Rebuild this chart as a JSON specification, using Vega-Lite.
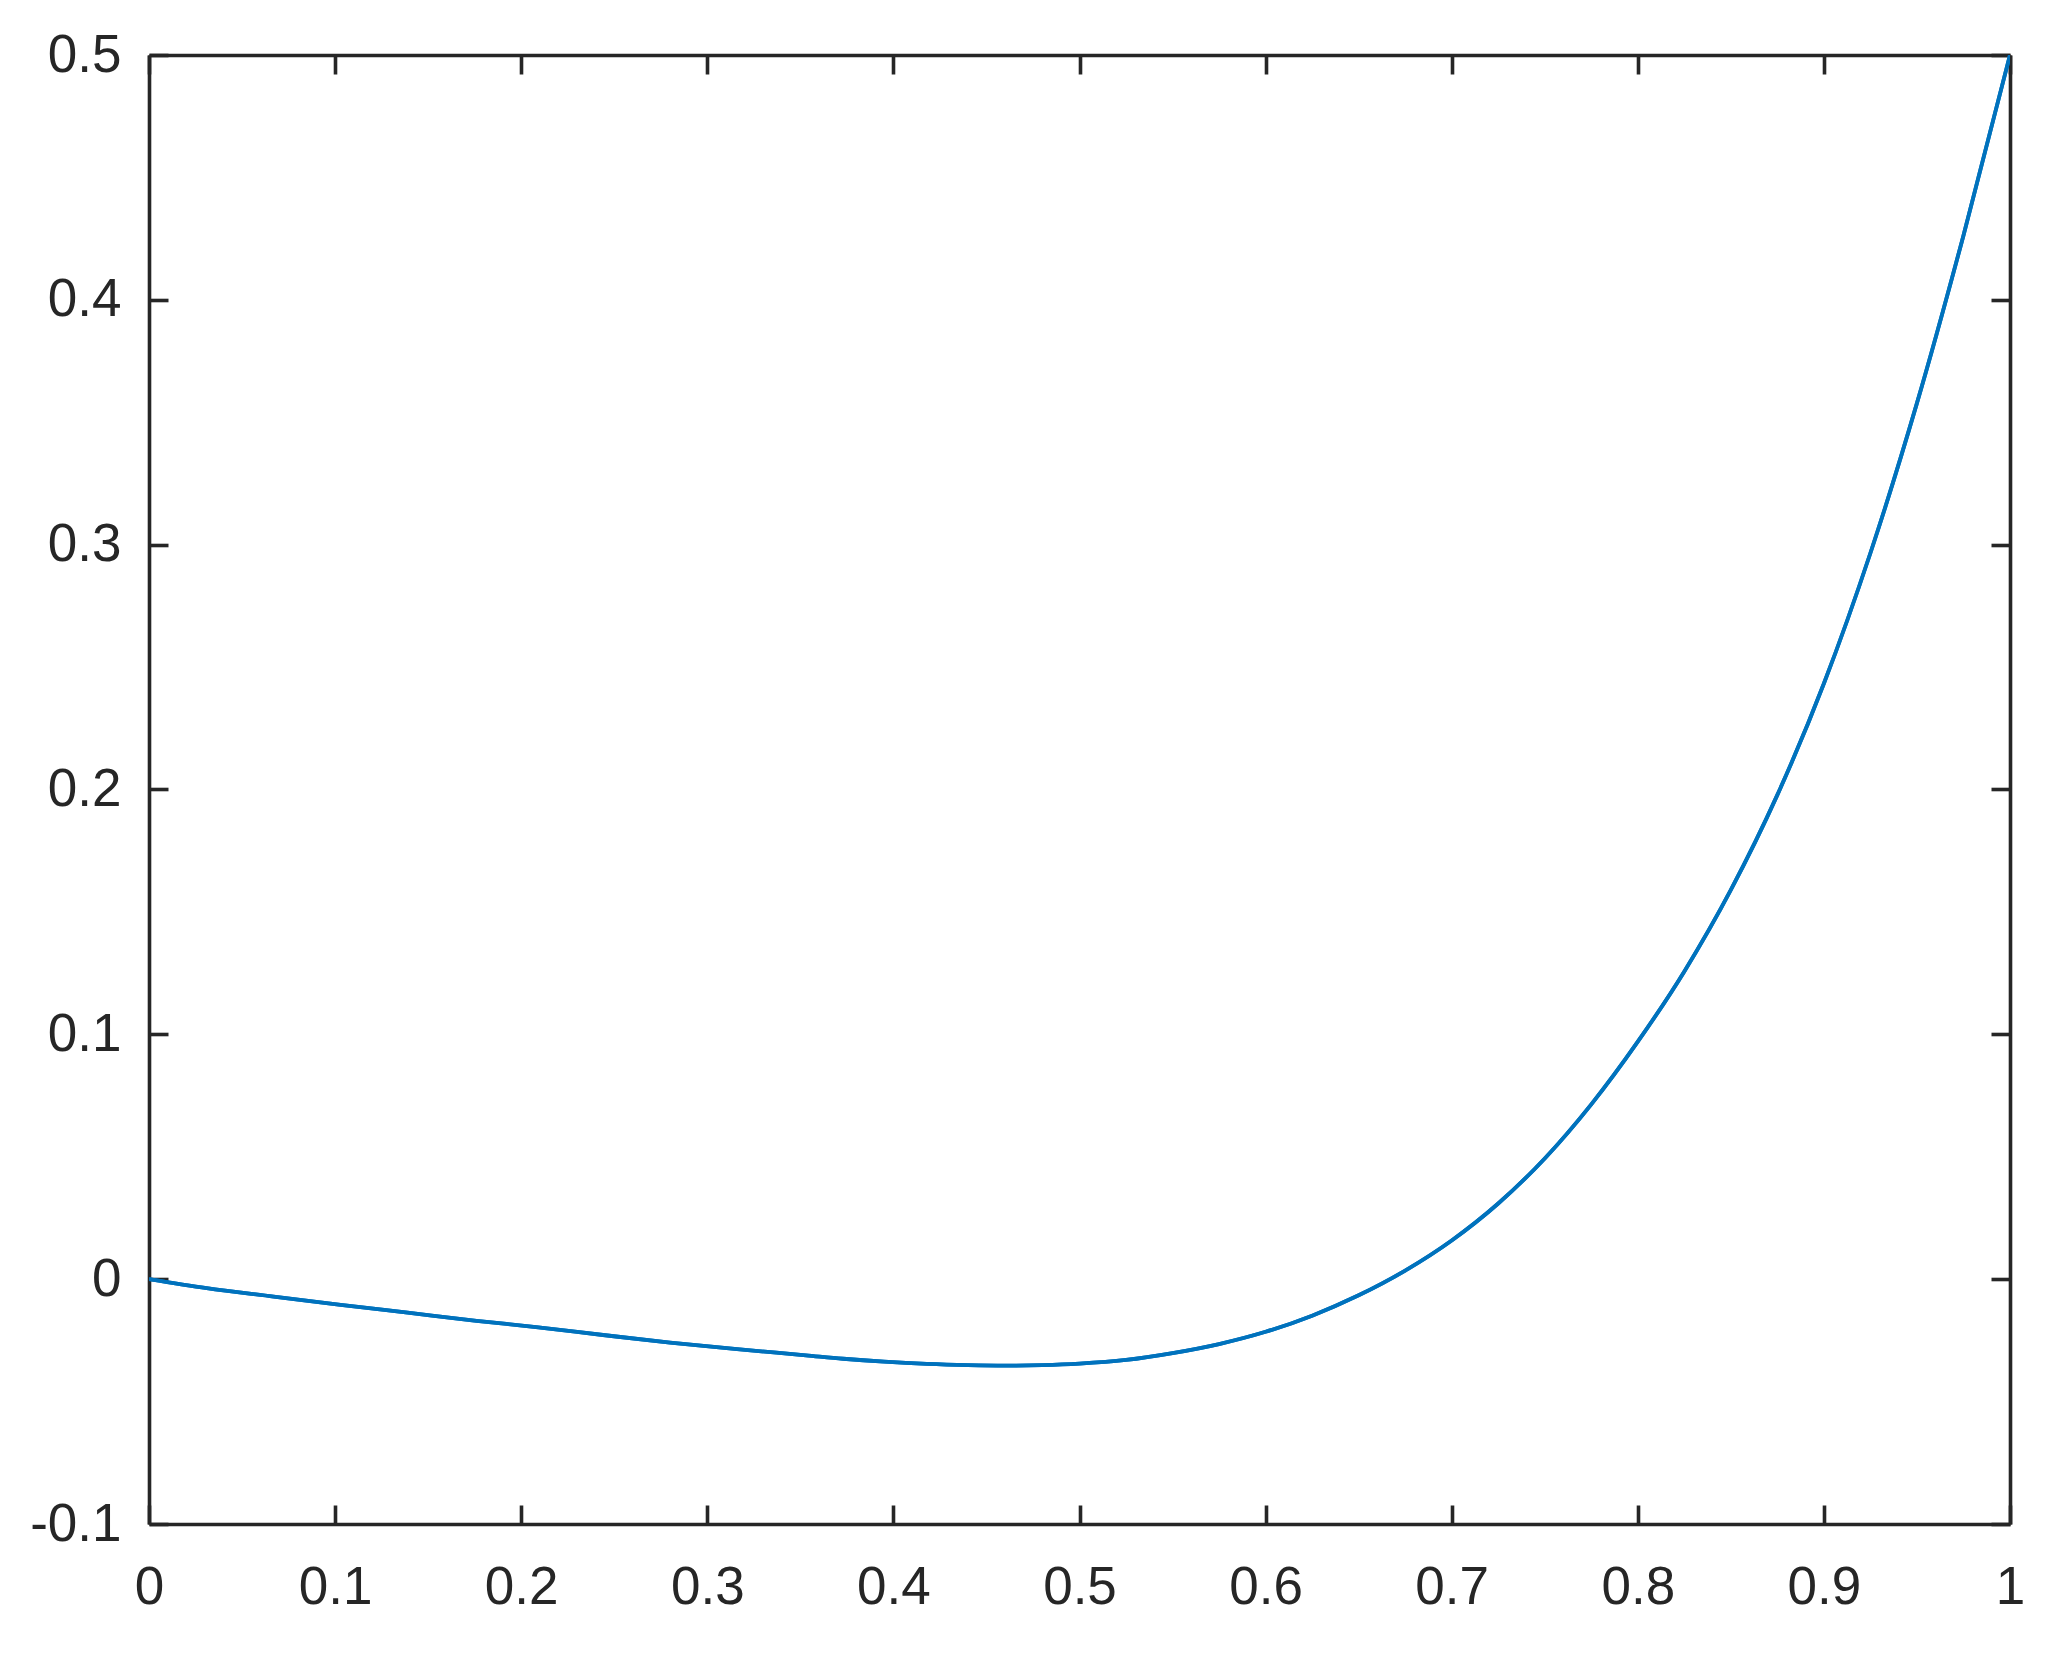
{
  "$schema": "https://vega.github.io/schema/vega-lite/v6.json",
  "width": 1861,
  "height": 1469,
  "autosize": {"type": "none"},
  "padding": {"left": 149, "top": 55, "right": 35, "bottom": 131},
  "background": "white",
  "config": {
    "view": {"stroke": null},
    "axis": {
      "grid": false,
      "domainColor": "#262626",
      "domainWidth": 3.6,
      "tickColor": "#262626",
      "tickWidth": 3.6,
      "tickSize": -19,
      "labelColor": "#262626",
      "labelFont": "Liberation Sans",
      "labelFontSize": 53,
      "labelFlush": false,
      "labelOverlap": false,
      "title": null
    }
  },
  "data": {
    "values": [
      {"x": 0, "y": 0},
      {"x": 0.031, "y": -0.0037},
      {"x": 0.067, "y": -0.0071},
      {"x": 0.103, "y": -0.0105},
      {"x": 0.139, "y": -0.0137},
      {"x": 0.176, "y": -0.017},
      {"x": 0.208, "y": -0.0196},
      {"x": 0.244, "y": -0.0228},
      {"x": 0.28, "y": -0.0259},
      {"x": 0.316, "y": -0.0286},
      {"x": 0.353, "y": -0.0311},
      {"x": 0.373, "y": -0.0325},
      {"x": 0.395, "y": -0.0337},
      {"x": 0.418, "y": -0.0346},
      {"x": 0.44, "y": -0.0351},
      {"x": 0.46, "y": -0.0353},
      {"x": 0.48, "y": -0.0351},
      {"x": 0.5, "y": -0.0345},
      {"x": 0.525, "y": -0.033},
      {"x": 0.55, "y": -0.0302},
      {"x": 0.575, "y": -0.0265},
      {"x": 0.6, "y": -0.0215},
      {"x": 0.625, "y": -0.0149},
      {"x": 0.65, "y": -0.0066},
      {"x": 0.675, "y": 0.0035},
      {"x": 0.7, "y": 0.0158},
      {"x": 0.725, "y": 0.0309},
      {"x": 0.75, "y": 0.0493},
      {"x": 0.775, "y": 0.0714},
      {"x": 0.8, "y": 0.097},
      {"x": 0.825, "y": 0.1257},
      {"x": 0.85, "y": 0.159},
      {"x": 0.875, "y": 0.1978},
      {"x": 0.9, "y": 0.2433},
      {"x": 0.925, "y": 0.2966},
      {"x": 0.95, "y": 0.3578},
      {"x": 0.975, "y": 0.4263},
      {"x": 1.0, "y": 0.5}
    ]
  },
  "layer": [
    {
      "mark": {"type": "line", "color": "#0072BD", "strokeWidth": 3.8, "interpolate": "monotone", "clip": true},
      "encoding": {
        "x": {
          "field": "x", "type": "quantitative",
          "scale": {"domain": [0, 1], "nice": false, "zero": false},
          "axis": {"orient": "bottom", "values": [0, 0.1, 0.2, 0.3, 0.4, 0.5, 0.6, 0.7, 0.8, 0.9, 1], "labelExpr": "datum.value + ''", "labelPadding": 56}
        },
        "y": {
          "field": "y", "type": "quantitative",
          "scale": {"domain": [-0.1, 0.5], "nice": false, "zero": false},
          "axis": {"orient": "left", "values": [-0.1, 0, 0.1, 0.2, 0.3, 0.4, 0.5], "labelExpr": "datum.value + ''", "labelPadding": 47}
        }
      }
    },
    {
      "mark": {"type": "line", "color": "#0072BD", "strokeWidth": 3.8, "interpolate": "monotone", "clip": true},
      "encoding": {
        "x": {
          "field": "x", "type": "quantitative",
          "scale": {"domain": [0, 1], "nice": false, "zero": false},
          "axis": {"orient": "top", "values": [0, 0.1, 0.2, 0.3, 0.4, 0.5, 0.6, 0.7, 0.8, 0.9, 1], "labels": false}
        },
        "y": {
          "field": "y", "type": "quantitative",
          "scale": {"domain": [-0.1, 0.5], "nice": false, "zero": false},
          "axis": {"orient": "right", "values": [-0.1, 0, 0.1, 0.2, 0.3, 0.4, 0.5], "labels": false}
        }
      }
    }
  ],
  "resolve": {"axis": {"x": "independent", "y": "independent"}}
}
